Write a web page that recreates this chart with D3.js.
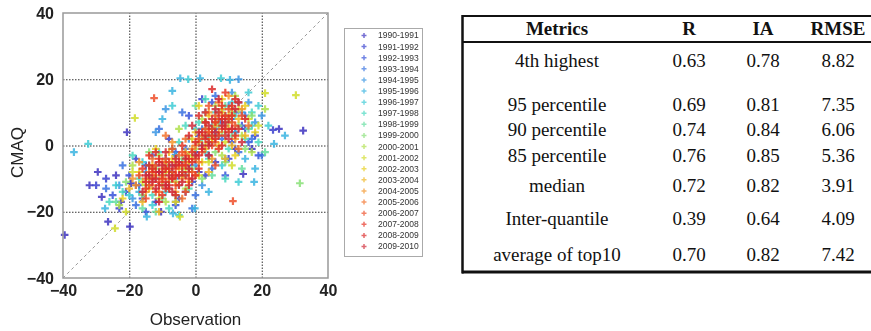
<!DOCTYPE html>
<html>
<head>
<meta charset="utf-8">
<script src="https://cdn.jsdelivr.net/npm/d3@7"></script>
<style>
  body { margin: 0; background: #fff; }
  svg { display: block; }
</style>
</head>
<body>
<div id="container"></div>
<script>
// Constants and globals
const width = 871,
  height = 331,
  plot = { left: 63, right: 328, top: 13, bottom: 278 }

// data
const seasons = ["1990-1991", "1991-1992", "1992-1993", "1993-1994", "1994-1995",
  "1995-1996", "1996-1997", "1997-1998", "1998-1999", "1999-2000",
  "2000-2001", "2001-2002", "2002-2003", "2003-2004", "2004-2005",
  "2005-2006", "2006-2007", "2007-2008", "2008-2009", "2009-2010"]

const axisTicks = [-40, -20, 0, 20, 40]
const gridTicks = [-20, 0, 20]

// [observation, CMAQ] per season
const points = [
  [[-39.5,-27],[-32,-12],[-29.5,-8],[-26.4,-23],[-19.8,-24.5],[-28.3,-15.5],[-20.7,4],[-19.5,-11.4],[14.4,-8.6],[25.2,5],[32.5,4.5],[-10.4,-20],[-22.5,-17],[-24,-9],[-15,-6],[-6,-3],[-3,-14],[4,2],[8,11],[12,-1],[-12,-17],[17,-1],[1,-8],[6,5]],
  [[-30,-12],[-27,-10],[-23,-19],[-21,-14],[-18,-4],[-14,-10],[-10,-12],[-7,-8],[-2,-6],[0,-2],[3,-9],[6,-5],[9,3],[11,8],[13,13],[15,5],[18,3],[23.4,4.7],[-5,-16],[-16,-16],[2,14],[10,-4],[-8,2],[-12,-6],[-4,-9],[5,1],[8,7]],
  [[-25,-15],[-20,-9],[-17,-12],[-13,-3],[-11,-8],[-8,-13],[-4,-5],[-1,-11],[1,3],[4,-3],[7,8],[9,-9],[12,10],[14,6],[16,1],[19,-3],[5,13],[-2,9],[-6,-18],[-15,-20],[11,1],[3,7],[-9,-6],[-6,-2],[6,4],[10,8]],
  [[-27,-13],[-22,-6],[-18,-18],[-14,-12],[-9,-4],[-6,-10],[-3,-1],[0,-15],[2,5],[5,-7],[8,2],[10,12],[13,-2],[15,9],[17,2],[-11,5],[-4,10],[6,15],[20,-3],[-1,-19],[12,4]],
  [[-23,-12],[-19,-16],[-15,-8],[-12,4],[-8,-6],[-5,-12],[-2,2],[0,-6],[3,10],[6,3],[9,-4],[11,16],[14,10],[16,13],[13,20],[18,7],[-9,11],[-6,-17],[2,-12],[8,7],[20,9]],
  [[-36.7,-2],[-27.3,-19],[-14.7,-21.5],[-6.8,-20.5],[-0.2,-19],[17.7,-11],[-7,16.5],[-4.6,20.3],[1.4,20.3],[10.4,19.8],[27,3],[23.7,0.5],[-17,-14],[-12,-10],[-6,-3],[-2,-8],[2,0],[5,6],[9,9],[12,4],[15,-4],[18,-7],[-10,8],[4,-14]],
  [[-32.4,0.5],[-2.2,20],[7.7,20.3],[-13,-18],[-9,-14],[-20,-15],[-16,-5],[-11,-2],[-7,12],[-3,-9],[0,5],[3,-2],[6,10],[8,-6],[11,13],[13,-11],[16,16],[19,12],[17,6],[-5,-21],[22,6],[-24,-12],[-6,-6],[4,3],[9,6]],
  [[-22,-14],[-17,-10],[-13,-15],[-9,-8],[-5,1],[-2,-13],[1,7],[4,-4],[7,3],[10,-1],[12,9],[15,2],[17,10],[-8,-19],[-19,-3],[3,14],[9,-10],[-3,6],[19,1],[-26,-17]],
  [[-24,-17],[-18,-12],[-14,-6],[-10,-16],[-7,-1],[-4,-7],[-1,-3],[2,2],[5,-9],[7,6],[9,12],[11,3],[14,-7],[16,5],[-12,-20],[0,12],[4,1],[-16,-19],[21,-2]],
  [[31.5,-11.4],[-21,-11],[-16,-15],[-12,-7],[-8,-11],[-4,-4],[-1,-7],[1,1],[3,5],[6,-2],[8,4],[11,10],[13,6],[15,-1],[-6,-15],[2,-10],[17,9],[-14,-2],[9,-5],[-10,-9],[0,-4],[5,5]],
  [[-23,-18],[-19,-6],[-15,-12],[-11,-3],[-7,-9],[-3,-13],[0,-1],[2,8],[5,3],[8,-3],[10,7],[12,15],[14,3],[17,-2],[-9,-17],[-5,5],[21,11],[6,12],[-13,-9]],
  [[-24.3,-25],[-18.3,8.3],[-4.7,-21.5],[21,15.8],[30.3,15.2],[-21,-20],[-16,-11],[-13,-7],[-9,-5],[-6,-11],[-2,-3],[1,-9],[3,3],[6,8],[9,1],[11,-6],[13,11],[16,8],[-11,-16],[4,-5],[19,6],[-19,-8],[-8,-8],[-3,-7],[5,2],[8,10]],
  [[-22,-16],[-17,-8],[-14,-13],[-10,-10],[-7,-4],[-4,-9],[-1,2],[2,-5],[4,9],[7,0],[10,5],[12,-3],[15,12],[-12,-1],[-6,-17],[1,12],[18,4],[8,14],[-9,-7],[-2,-5],[3,0],[11,9]],
  [[-20,-13],[-16,-17],[-13,-6],[-10,-12],[-8,-2],[-5,-7],[-2,-11],[0,4],[3,-1],[6,6],[8,11],[11,0],[13,8],[15,3],[-11,-20],[4,-8],[-3,-2],[9,-4],[-14,-10],[-9,-8],[-6,-5],[-1,-4],[5,2],[10,9]],
  [[-19,-10],[-15,-14],[-12,-9],[-9,-6],[-6,-14],[-3,-5],[-1,-1],[2,3],[4,10],[7,4],[9,8],[12,2],[14,11],[-7,1],[0,-9],[5,-4],[10,15],[-17,-5],[-13,-12],[-10,-7],[-4,-10],[1,1],[6,7],[11,11]],
  [[-18,-12],[-14,-8],[-11,-14],[-8,-10],[-5,-3],[-2,-8],[0,0],[3,7],[6,1],[8,9],[11,5],[13,-1],[-9,3],[-4,-16],[1,-5],[7,13],[16,6],[-13,-4],[-15,-10],[-10,-5],[-6,-9],[-3,2],[4,4],[9,6]],
  [[-12.5,14.3],[11.3,-16.8],[-17,-9],[-14,-12],[-12,-6],[-10,-9],[-8,-13],[-6,-7],[-4,-2],[-2,-10],[0,-4],[1,2],[3,5],[5,0],[7,8],[9,3],[10,11],[12,6],[14,9],[-7,-1],[-15,-16],[4,12],[6,-6],[-3,-14],[-13,-8],[-11,-11],[-9,-4],[-7,-10],[-5,-6],[-3,-3],[-1,-8],[2,-2],[4,4],[6,9],[8,5],[11,7],[-6,-12],[-12,-14]],
  [[-16,-7],[-13,-10],[-11,-4],[-9,-11],[-7,-8],[-5,-12],[-3,-6],[-1,-2],[1,-7],[2,4],[4,1],[6,7],[8,12],[10,8],[12,3],[13,13],[-8,-5],[-10,-15],[3,10],[-4,0],[7,-1],[-14,-3],[9,16],[-15,-13],[-12,-8],[-10,-10],[-8,-7],[-6,-9],[-4,-6],[-2,-4],[0,-9],[3,2],[5,5],[7,3],[9,9],[11,12],[-9,-13]],
  [[-15,-11],[-13,-7],[-11,-12],[-9,-7],[-7,-10],[-5,-5],[-3,-9],[-1,-5],[0,1],[2,-1],[4,6],[5,3],[7,10],[9,5],[11,9],[13,5],[-6,-15],[-12,-2],[1,9],[-2,3],[8,0],[15,8],[5,17],[-14,-6],[-12,-10],[-10,-8],[-8,-12],[-6,-6],[-4,-8],[-2,-12],[1,-3],[3,7],[6,2],[8,8],[10,4],[12,14],[-11,-5]],
  [[-14,-9],[-12,-13],[-10,-6],[-8,-9],[-6,-4],[-4,-11],[-2,-7],[0,-3],[2,0],[3,3],[5,8],[6,4],[8,6],[10,2],[12,11],[-9,-2],[-11,-17],[4,-3],[-1,6],[7,14],[14,1],[-16,-14],[-13,-11],[-11,-8],[-9,-12],[-7,-6],[-5,-9],[-3,-4],[-1,-10],[1,4],[4,0],[6,11],[9,7],[11,5],[-7,-14],[-15,-9]]
]

// table
const headers = ["Metrics", "R", "IA", "RMSE"]
const metrics = ["4th highest", "95 percentile", "90 percentile", "85 percentile",
  "median", "Inter-quantile", "average of top10"]
const rValues = [0.63, 0.69, 0.74, 0.76, 0.72, 0.39, 0.70]
const iaValues = [0.78, 0.81, 0.84, 0.85, 0.82, 0.64, 0.82]
const rmseValues = [8.82, 7.35, 6.06, 5.36, 3.91, 4.09, 7.42]

// jet-like colours, one per season
const color = d3.scaleOrdinal()
  .domain(seasons)
  .range(d3.quantize(d3.interpolateRgbBasis(
    ["#3c32c0", "#3448dc", "#3c90e6", "#34cce0", "#50e0b4", "#9ce060",
     "#e6e214", "#f4b028", "#f46a30", "#e8281e", "#d02838"]), seasons.length))

const svg = d3.select("#container")
  .append("svg")
  .attr("width", width)
  .attr("height", height)
  .style("font-family", "'Liberation Sans', Arial, sans-serif")

svg.append("defs").append("filter")
  .attr("id", "soft")
  .append("feGaussianBlur")
  .attr("stdDeviation", 0.5)

// scales
const xScale = d3.scaleLinear()
  .domain([-40, 40])
  .range([plot.left, plot.right])

const yScale = d3.scaleLinear()
  .domain([-40, 40])
  .range([plot.bottom, plot.top])

// grid
svg.append("g")
  .attr("transform", `translate(0,${plot.bottom})`)
  .call(d3.axisBottom(xScale).tickValues(gridTicks).tickSize(-(plot.bottom - plot.top)).tickFormat(""))
  .call(g => g.select(".domain").remove())
  .selectAll("line")
  .attr("stroke", "#333")
  .attr("stroke-dasharray", "1.5,1.5")

svg.append("g")
  .attr("transform", `translate(${plot.left},0)`)
  .call(d3.axisLeft(yScale).tickValues(gridTicks).tickSize(-(plot.right - plot.left)).tickFormat(""))
  .call(g => g.select(".domain").remove())
  .selectAll("line")
  .attr("stroke", "#333")
  .attr("stroke-dasharray", "1.5,1.5")

// 1:1 line
svg.append("line")
  .attr("x1", xScale(-40)).attr("y1", yScale(-40))
  .attr("x2", xScale(40)).attr("y2", yScale(40))
  .attr("stroke", "#999")
  .attr("stroke-dasharray", "3,3")

// points
const plus = s => `M${-s},0H${s}M0,${-s}V${s}`

const marks = svg.append("g").attr("filter", "url(#soft)")
marks.selectAll("g")
  .data(seasons)
  .join("g")
  .attr("stroke", d => color(d))
  .attr("stroke-opacity", 0.85)
  .attr("stroke-width", 2.2)
  .selectAll("path")
  .data((d, i) => points[i])
  .join("path")
  .attr("transform", d => `translate(${xScale(d[0])},${yScale(d[1])})`)
  .attr("d", plus(3.8))

// frame
svg.append("rect")
  .attr("x", plot.left).attr("y", plot.top)
  .attr("width", plot.right - plot.left)
  .attr("height", plot.bottom - plot.top)
  .attr("fill", "none")
  .attr("stroke", "#999")
  .attr("stroke-width", 1.5)

// axis labels
svg.append("g")
  .attr("transform", `translate(0,${plot.bottom + 4})`)
  .call(d3.axisBottom(xScale).tickValues(axisTicks).tickSize(0).tickFormat(d3.format("d")))
  .call(g => g.select(".domain").remove())
  .selectAll("text")
  .attr("font-size", 16)
  .attr("font-weight", "bold")
  .attr("font-family", "'Liberation Sans', Arial, sans-serif")
  .attr("fill", "#222")

svg.append("g")
  .attr("transform", `translate(${plot.left - 6},0)`)
  .call(d3.axisLeft(yScale).tickValues(axisTicks).tickSize(0).tickFormat(d3.format("d")))
  .call(g => g.select(".domain").remove())
  .selectAll("text")
  .attr("font-size", 16)
  .attr("font-weight", "bold")
  .attr("font-family", "'Liberation Sans', Arial, sans-serif")
  .attr("fill", "#222")

svg.append("text")
  .attr("x", (plot.left + plot.right) / 2)
  .attr("y", 325)
  .attr("text-anchor", "middle")
  .attr("font-size", 17)
  .attr("fill", "#222")
  .text("Observation")

svg.append("text")
  .attr("transform", `translate(23,${(plot.top + plot.bottom) / 2 + 7}) rotate(-90)`)
  .attr("text-anchor", "middle")
  .attr("font-size", 17)
  .attr("fill", "#222")
  .text("CMAQ")

// legend
const legend = svg.append("g")
legend.append("rect")
  .attr("x", 344.5).attr("y", 28.5)
  .attr("width", 78).attr("height", 228)
  .attr("fill", "#fff")
  .attr("stroke", "#aaa")

const legendY = d3.scalePoint().domain(seasons).range([35.5, 246.5])

const item = legend.selectAll("g.item")
  .data(seasons)
  .join("g")
  .attr("class", "item")
  .attr("transform", d => `translate(0,${legendY(d)})`)

item.append("path")
  .attr("transform", "translate(364,0)")
  .attr("d", plus(2.5))
  .attr("stroke", d => color(d))
  .attr("stroke-opacity", 0.7)
  .attr("stroke-width", 1.5)
  .attr("filter", "url(#soft)")

item.append("text")
  .attr("x", 378)
  .attr("dy", "0.35em")
  .attr("font-size", 8.5)
  .attr("fill", "#333")
  .text(d => d)

// table
const table = svg.append("g")
  .style("font-family", "'Liberation Serif', 'Times New Roman', serif")
  .attr("font-size", 19)
  .attr("fill", "#111")

const colX = [557, 689, 763, 838]
const headerBaseline = 35
const rowBaselines = [67, 111, 136, 162, 192, 225, 261]
const f2 = d3.format(".2f")

table.selectAll("text.head")
  .data(headers)
  .join("text")
  .attr("class", "head")
  .attr("x", (d, i) => colX[i])
  .attr("y", headerBaseline)
  .attr("text-anchor", "middle")
  .attr("font-weight", "bold")
  .text(d => d)

const rows = metrics.map((m, i) => [m, f2(rValues[i]), f2(iaValues[i]), f2(rmseValues[i])])

table.selectAll("g.row")
  .data(rows)
  .join("g")
  .attr("class", "row")
  .attr("transform", (d, i) => `translate(0,${rowBaselines[i]})`)
  .selectAll("text")
  .data(d => d)
  .join("text")
  .attr("x", (d, i) => colX[i])
  .attr("text-anchor", "middle")
  .text(d => d)

// table rules
const rule = (x1, y1, x2, y2, w) => table.append("line")
  .attr("x1", x1).attr("y1", y1).attr("x2", x2).attr("y2", y2)
  .attr("stroke", "#111").attr("stroke-width", w)

rule(462, 16, 871, 16, 2)
rule(462, 42, 871, 42, 2)
rule(462, 272, 871, 272, 3)
rule(462.5, 15, 462.5, 273.5, 2.5)
</script>
</body>
</html>
